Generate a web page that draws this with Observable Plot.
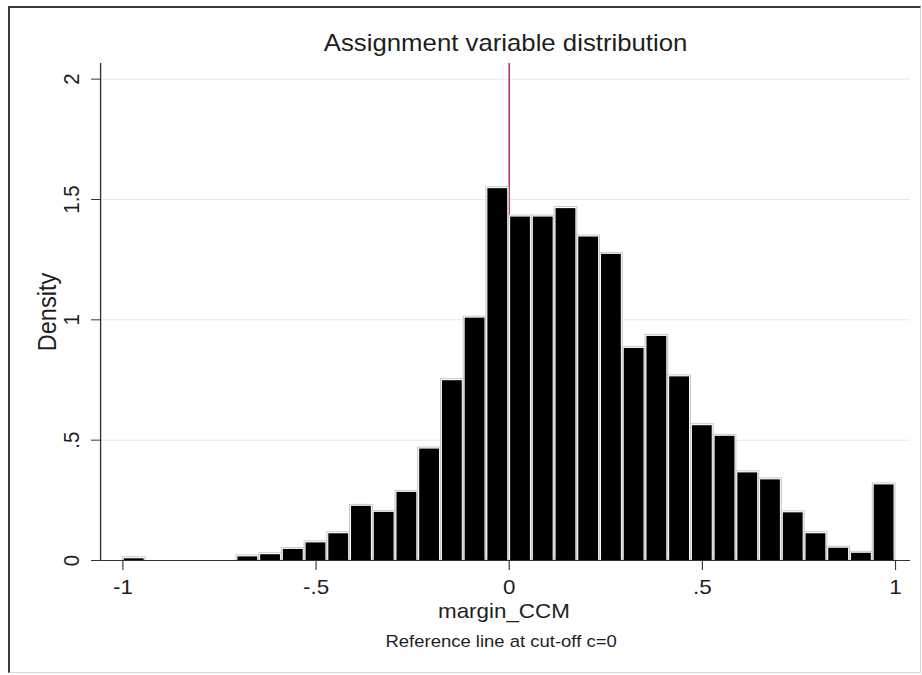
<!DOCTYPE html>
<html>
<head>
<meta charset="utf-8">
<script src="https://cdn.jsdelivr.net/npm/d3@7"></script>
<script src="https://cdn.jsdelivr.net/npm/@observablehq/plot@0.6"></script>
<style>
  html, body { margin: 0; padding: 0; background: #fff; }
  #wrap { position: relative; width: 922px; height: 675px; overflow: hidden; background: #fff; }
  #wrap svg { position: absolute; left: 0; top: 0; }
  #border { position: absolute; left: 8px; top: 6px; width: 910px; height: 664px;
            border-left: 2px solid #3a3a3a; border-top: 2px solid #3a3a3a;
            border-right: 1px solid #d6d6d6; border-bottom: 1px solid #d6d6d6;
            pointer-events: none; }
</style>
</head>
<body>
<div id="wrap"><div id="border"></div></div>
<script>
// ---- data ----
const binStart = -1;          // lower edge of first bin
const binEnd = 1;             // upper edge of last bin
const densities = [
  0.007, 0, 0, 0, 0, 0.015, 0.024, 0.046, 0.073, 0.111, 0.225, 0.200, 0.283, 0.463, 0.747, 1.007, 1.545,
  1.427, 1.427, 1.462, 1.344, 1.272, 0.881, 0.931, 0.763, 0.560, 0.516, 0.364, 0.335, 0.198, 0.111, 0.051, 0.030, 0.314
];
const xTicks = [-1, -0.5, 0, 0.5, 1];
const xTickLabels = ["-1", "-.5", "0", ".5", "1"];
const yTicks = [0, 0.5, 1, 1.5, 2];
const yTickLabels = ["0", ".5", "1", "1.5", "2"];
const gridValues = [0.5, 1, 1.5, 2];
const cutoff = 0;
const titleText = "Assignment variable distribution";
const xLabel = "margin_CCM";
const yLabel = "Density";
const captionText = "Reference line at cut-off c=0";

// ---- build bins table ----
const binWidth = (binEnd - binStart) / densities.length;
const bins = densities.map((d, i) => ({
  x1: binStart + i * binWidth,
  x2: binStart + (i + 1) * binWidth,
  density: d
})).filter(b => b.density > 0);

// ---- layout (design width; stretched horizontally to 922px like the reference) ----
const W = 823, H = 675, SCREEN_W = 922;
const xDomain = [-1.0577, 1.0389];
const yDomain = [0, 2.065];
const font = "'Liberation Sans', Arial, Helvetica, sans-serif";

const chart = Plot.plot({
  width: W,
  height: H,
  marginLeft: 89.3,
  marginRight: 10.7,
  marginTop: 63,
  marginBottom: 115,
  style: { fontFamily: font, color: "#1e1e1e", background: "white", overflow: "visible" },
  x: { domain: xDomain },
  y: { domain: yDomain },
  marks: [
    Plot.ruleY(gridValues, { stroke: "#e8e8e8", strokeWidth: 1 }),
    Plot.ruleX([cutoff], { stroke: "#b3264f", strokeWidth: 1.3 }),
    Plot.rectY(bins, { x1: "x1", x2: "x2", y: "density", fill: "white", stroke: "#c4c4c4", strokeWidth: 0.9, insetTop: -1.5 }),
    Plot.rectY(bins, { x1: "x1", x2: "x2", y: "density", fill: "black", insetLeft: 1.3, insetRight: 1.3 }),
    Plot.ruleY([yDomain[0]], { stroke: "#333", strokeWidth: 1.2 }),
    Plot.ruleX([xDomain[0]], { stroke: "#333", strokeWidth: 1.2 }),
    Plot.axisX(xTicks, {
      tickSize: 10, tickPadding: 9, fontSize: 20, label: null, stroke: "#333",
      tickFormat: d => xTickLabels[xTicks.indexOf(d)]
    }),
    Plot.axisY(yTicks, {
      tickSize: 8, tickPadding: 11.4, tickRotate: -90, fontSize: 20.5, label: null, stroke: "#333",
      tickFormat: d => yTickLabels[yTicks.indexOf(d)]
    }),
    Plot.text([titleText], { text: d => d, frameAnchor: "top", dy: -13, lineAnchor: "bottom", fontSize: 23, fill: "#1e1e1e" }),
    Plot.text([xLabel], { text: d => d, frameAnchor: "bottom", dy: 57, dx: -1.5, lineAnchor: "bottom", fontSize: 20, fill: "#1e1e1e" }),
    Plot.text([captionText], { text: d => d, frameAnchor: "bottom", dy: 86, dx: -4, lineAnchor: "bottom", fontSize: 16.5, fill: "#1e1e1e" }),
    Plot.text([yLabel], { text: d => d, frameAnchor: "left", rotate: -90, dx: -40.2, textAnchor: "middle", lineAnchor: "bottom", fontSize: 23.5, fill: "#1e1e1e" })
  ]
});

chart.setAttribute("width", SCREEN_W);
chart.setAttribute("height", H);
chart.setAttribute("preserveAspectRatio", "none");
chart.style.width = SCREEN_W + "px";
chart.style.height = H + "px";
chart.style.maxWidth = "none";
const wrap = document.getElementById("wrap");
wrap.insertBefore(chart, wrap.firstChild);
</script>
</body>
</html>
